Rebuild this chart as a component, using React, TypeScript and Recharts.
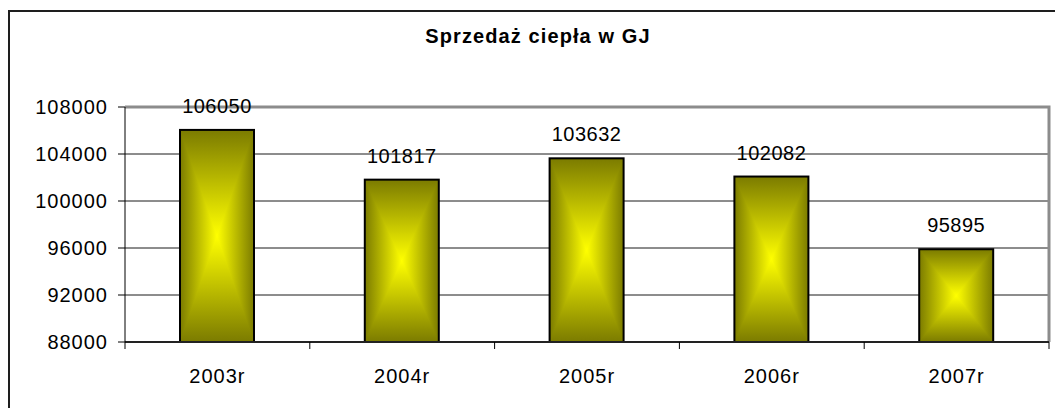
import React from "react";
import {
  BarChart,
  Bar,
  XAxis,
  YAxis,
  CartesianGrid,
  LabelList,
  ReferenceArea,
} from "recharts";

const years = ["2003r", "2004r", "2005r", "2006r", "2007r"];
const sales = [106050, 101817, 103632, 102082, 95895];
const yTicks = [88000, 92000, 96000, 100000, 104000, 108000];

const chartData = years.map((year, i) => ({ year, value: sales[i] }));

const FONT = '"Liberation Sans", Arial, sans-serif';
const CHART_W = 1060;
const CHART_H = 400;
const MARGIN = { top: 95, right: 21, left: 0, bottom: 20 };
const Y_AXIS_W = 115;
const PLOT_W = CHART_W - MARGIN.left - MARGIN.right - Y_AXIS_W;
const PLOT_H = CHART_H - MARGIN.top - MARGIN.bottom - 50;
const BAND = PLOT_W / years.length;

const EDGE = "#7b7b00";
const MID = "#ffff00";

// box gradient "from center": olive at the edges, yellow in the middle
function BoxBar(props: any) {
  const { x, y, width, height, index } = props;
  if (!width || !height) return null;
  const cx = x + width / 2;
  const cy = y + height / 2;
  const id = `bb${index}`;
  return (
    <g>
      <defs>
        <linearGradient id={`${id}v`} x1="0" y1="0" x2="0" y2="1">
          <stop offset="0%" stopColor={EDGE} />
          <stop offset="50%" stopColor={MID} />
          <stop offset="100%" stopColor={EDGE} />
        </linearGradient>
        <linearGradient id={`${id}l`} x1="0" y1="0" x2="1" y2="0">
          <stop offset="0%" stopColor={EDGE} />
          <stop offset="100%" stopColor={MID} />
        </linearGradient>
        <linearGradient id={`${id}r`} x1="1" y1="0" x2="0" y2="0">
          <stop offset="0%" stopColor={EDGE} />
          <stop offset="100%" stopColor={MID} />
        </linearGradient>
      </defs>
      <rect x={x} y={y} width={width} height={height} fill={`url(#${id}v)`} />
      <polygon points={`${x},${y} ${x},${y + height} ${cx},${cy}`} fill={`url(#${id}l)`} />
      <polygon points={`${x + width},${y} ${x + width},${y + height} ${cx},${cy}`} fill={`url(#${id}r)`} />
      <rect x={x} y={y} width={width} height={height} fill="none" stroke="#000" strokeWidth={2} />
    </g>
  );
}

function XTick(props: any) {
  const { x, y, payload, index } = props;
  const left = x - BAND / 2;
  const right = x + BAND / 2;
  return (
    <g>
      <line x1={left} x2={left} y1={y - 7} y2={y} stroke="#000" />
      {index === years.length - 1 && (
        <line x1={right} x2={right} y1={y - 7} y2={y} stroke="#000" />
      )}
      <text
        x={x}
        y={y + 34}
        textAnchor="middle"
        fill="#000"
        fontSize={20}
        fontFamily={FONT}
        letterSpacing={1}
      >
        {payload.value}
      </text>
    </g>
  );
}

export default function App() {
  return (
    <div
      style={{
        position: "fixed",
        left: 0,
        top: 0,
        width: 1055,
        height: 408,
        overflow: "hidden",
        background: "#fff",
      }}
    >
      <style>{"html,body{margin:0;overflow:hidden}"}</style>
      <div
        style={{
          position: "absolute",
          left: 8,
          top: 10,
          width: CHART_W,
          height: CHART_H + 20,
          border: "2px solid #1e1e1e",
          background: "#fff",
        }}
      >
        <div
          style={{
            position: "absolute",
            left: 0,
            top: 14,
            width: 1056,
            textAlign: "center",
            fontFamily: FONT,
            fontWeight: "bold",
            fontSize: 20,
            lineHeight: "20px",
            letterSpacing: 1.1,
            color: "#000",
          }}
        >
          Sprzedaż ciepła w GJ
        </div>
        <BarChart width={CHART_W} height={CHART_H} data={chartData} margin={MARGIN}>
          <CartesianGrid vertical={false} stroke="#1a1a1a" />
          <ReferenceArea
            y1={88000}
            y2={108000}
            fill="none"
            stroke="#8c8c8c"
            strokeWidth={3}
            strokeDasharray={`${PLOT_W + PLOT_H} ${PLOT_W + PLOT_H}`}
          />
          <XAxis
            dataKey="year"
            height={50}
            axisLine={{ stroke: "#222", strokeWidth: 2 }}
            tickLine={false}
            tickSize={7}
            tickMargin={0}
            interval={0}
            tick={<XTick />}
          />
          <YAxis
            width={Y_AXIS_W}
            domain={[88000, 108000]}
            ticks={yTicks}
            interval={0}
            axisLine={{ stroke: "#000" }}
            tickLine={{ stroke: "#000" }}
            tickSize={7}
            tickMargin={10}
            tick={{ fill: "#000", fontSize: 20, fontFamily: FONT, letterSpacing: 1 }}
          />
          <Bar
            dataKey="value"
            barSize={74}
            shape={<BoxBar />}
            isAnimationActive={false}
          >
            <LabelList
              dataKey="value"
              position="top"
              offset={17}
              fill="#000"
              fontSize={20}
              fontFamily={FONT}
              letterSpacing={0.5}
            />
          </Bar>
        </BarChart>
      </div>
    </div>
  );
}
